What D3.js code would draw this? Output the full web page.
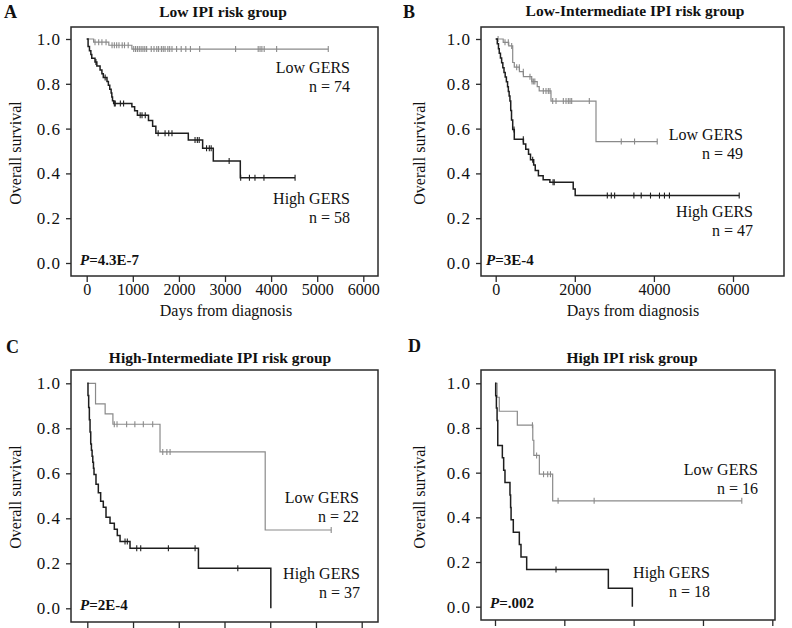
<!DOCTYPE html>
<html>
<head>
<meta charset="utf-8">
<script src="https://cdn.jsdelivr.net/npm/d3@7"></script>
<style>
  html, body { margin: 0; padding: 0; background: #fff; }
  svg { display: block; font-family: "Liberation Serif", "Times New Roman", serif; }
</style>
</head>
<body>
<svg id="chart" width="792" height="628"></svg>
<script>
// ---------------- DATA ----------------
const panelLetters = ["A", "B", "C", "D"];
const panelTitles = ["Low IPI risk group", "Low-Intermediate IPI risk group",
                     "High-Intermediate IPI risk group", "High IPI risk group"];
const pValues = ["=4.3E-7", "=3E-4", "=2E-4", "=.002"];
const lowCounts = [74, 49, 22, 16];
const highCounts = [58, 47, 37, 18];
const seriesNames = ["Low GERS", "High GERS"];
const yTicks = [0, 0.2, 0.4, 0.6, 0.8, 1.0];
const xTicksA = [0, 1000, 2000, 3000, 4000, 5000, 6000];
const xTicksB = [0, 2000, 4000, 6000];
const xTicksC = [0, 1000, 2000, 3000, 4000, 5000, 6000];
const xTicksD = [0, 1000, 2000, 3000, 4000];

// Kaplan-Meier steps: [day, survival after that day]
const lowA_steps = [[0,1],[150,0.986],[480,0.972],[980,0.955]];
const lowA_end = 5240;
const lowA_censor = [180,260,330,420,550,600,650,700,770,820,900,1020,1060,1100,1140,1180,1220,1260,1300,1400,1460,1520,1560,1620,1660,1700,1760,1800,1850,1950,2050,2150,2250,2450,3230,3720,3760,3800,3850,4120,5240];
const highA_steps = [[0,1],[30,0.966],[60,0.948],[90,0.931],[110,0.914],[180,0.897],[220,0.879],[290,0.862],[330,0.845],[360,0.828],[440,0.810],[470,0.793],[500,0.776],[530,0.759],[545,0.741],[560,0.724],[585,0.712],[980,0.697],[1040,0.680],[1100,0.660],[1340,0.636],[1430,0.610],[1500,0.579],[2204,0.549],[2515,0.512],[2746,0.455],[3332,0.381]];
const highA_end = 4520;
const highA_censor = [200,400,600,620,730,800,1160,1200,1270,1550,1700,1780,1850,2350,2400,2440,2600,2660,2700,3090,3340,3530,3650,3845,4520];

const lowB_steps = [[0,1],[190,0.985],[330,0.969],[430,0.895],[470,0.874],[600,0.854],[700,0.832],[910,0.810],[1050,0.787],[1100,0.768],[1398,0.723],[2536,0.542]];
const lowB_end = 4084;
const lowB_censor = [60,235,319,404,531,597,698,867,920,960,990,1204,1272,1330,1373,1441,1525,1710,1778,1836,1879,1921,2367,3175,3511,4084];
const highB_steps = [[0,1],[40,0.979],[70,0.957],[90,0.936],[120,0.915],[150,0.894],[180,0.872],[210,0.851],[240,0.830],[270,0.809],[300,0.787],[320,0.766],[340,0.745],[360,0.723],[380,0.681],[400,0.638],[430,0.596],[470,0.553],[700,0.531],[760,0.508],[830,0.485],[880,0.461],[960,0.437],[1000,0.413],[1080,0.389],[1200,0.372],[1370,0.360],[1960,0.330],[2010,0.301]];
const highB_end = 6157;
const highB_censor = [463,698,935,1450,1480,2822,2923,3007,3494,3679,3914,4141,4267,4393,6157];

const lowC_steps = [[0,1],[180,0.909],[390,0.864],[560,0.818],[1590,0.695],[3890,0.348]];
const lowC_end = 5333;
const lowC_censor = [590,650,860,1040,1225,1430,1650,1740,1810,5333];
const highC_steps = [[0,1],[15,0.946],[30,0.892],[45,0.838],[60,0.784],[75,0.730],[90,0.703],[105,0.676],[120,0.649],[135,0.622],[147,0.595],[190,0.551],[241,0.514],[292,0.476],[350,0.449],[409,0.405],[497,0.378],[591,0.351],[656,0.324],[716,0.297],[934,0.267],[2430,0.178],[4013,0]];
const highC_end = 4013;
const highC_censor = [825,875,1081,1168,1773,2357,3291];

const lowD_steps = [[0,1],[30,0.9375],[62,0.875],[322,0.8125],[545,0.745],[560,0.677],[640,0.593],[832,0.474]];
const lowD_end = 3560;
const lowD_censor = [540,600,700,760,800,910,1430,3560];
const highD_steps = [[0,1],[10,0.944],[20,0.889],[30,0.833],[40,0.722],[106,0.667],[125,0.611],[144,0.556],[216,0.5],[225,0.444],[232,0.389],[264,0.333],[351,0.278],[375,0.222],[457,0.167],[1635,0.083],[1981,0]];
const highD_end = 1981;
const highD_censor = [880];

// ---------------- LAYOUT ----------------
const panels = [
  { frame:[71,27,378,276], xDom:[0,6000], xRange:[86.7,363.3], yRange:[263,39], xTicks:xTicksA, showXLabels:true,
    letter:[4,18], title:[223,17], ylab:[15,153], xlab:[226,316], pv:[80,265],
    lowLab:[350,73], highLab:[350,204],
    low:{steps:lowA_steps,end:lowA_end,censor:lowA_censor}, high:{steps:highA_steps,end:highA_end,censor:highA_censor} },
  { frame:[481,27,784,276], xDom:[0,6000], xRange:[495.7,733], yRange:[263,39], xTicks:xTicksB, showXLabels:true,
    letter:[403,18], title:[635,16], ylab:[419,153], xlab:[633,316], pv:[486,265],
    lowLab:[743,140], highLab:[753,217],
    low:{steps:lowB_steps,end:lowB_end,censor:lowB_censor}, high:{steps:highB_steps,end:highB_end,censor:highB_censor} },
  { frame:[71,370,378,622], xDom:[0,6000], xRange:[87.3,361.7], yRange:[608.3,383.3], xTicks:xTicksC, showXLabels:false,
    letter:[6,353], title:[220,363], ylab:[15,497], xlab:null, pv:[80,610],
    lowLab:[359,503], highLab:[360,579],
    low:{steps:lowC_steps,end:lowC_end,censor:lowC_censor}, high:{steps:highC_steps,end:highC_end,censor:highC_censor} },
  { frame:[481,370,775,620], xDom:[0,4000], xRange:[495,772.3], yRange:[606.7,383.3], xTicks:xTicksD, showXLabels:false,
    letter:[408,352], title:[632,363], ylab:[419,497], xlab:null, pv:[490,608],
    lowLab:[758,475], highLab:[710,578],
    low:{steps:lowD_steps,end:lowD_end,censor:lowD_censor}, high:{steps:highD_steps,end:highD_end,censor:highD_censor} }
];

const svg = d3.select("#chart");
const lowColor = "#8a8a8a", highColor = "#1e1e1e";

panels.forEach((p, i) => {
  const g = svg.append("g");
  const x = d3.scaleLinear().domain(p.xDom).range(p.xRange);
  const y = d3.scaleLinear().domain([0, 1]).range(p.yRange);
  const [fx0, fy0, fx1, fy1] = p.frame;

  // frame
  g.append("rect").attr("x", fx0).attr("y", fy0).attr("width", fx1 - fx0).attr("height", fy1 - fy0)
    .attr("fill", "none").attr("stroke", "#2a2a2a").attr("stroke-width", 1.5);

  // y axis
  const yAxis = d3.axisLeft(y).tickValues(yTicks).tickFormat(d3.format(".1f")).tickSize(5).tickPadding(5);
  const ya = g.append("g").attr("transform", `translate(${fx0},0)`).call(yAxis);
  ya.select(".domain").remove();
  ya.selectAll("line").attr("stroke", "#2a2a2a").attr("stroke-width", 1.3);
  ya.selectAll("text").attr("font-family", "Liberation Serif").attr("font-size", 17)
    .attr("letter-spacing", 1).attr("fill", "#111");

  // x axis
  const xAxis = d3.axisBottom(x).tickValues(p.xTicks).tickSize(6).tickPadding(2)
    .tickFormat(p.showXLabels ? d3.format("d") : () => "");
  const xa = g.append("g").attr("transform", `translate(0,${fy1})`).call(xAxis);
  xa.select(".domain").remove();
  xa.selectAll("line").attr("stroke", "#2a2a2a").attr("stroke-width", 1.3);
  xa.selectAll("text").attr("font-family", "Liberation Serif").attr("font-size", 16).attr("fill", "#111");

  // curves
  const line = d3.line().x(d => x(d[0])).y(d => y(d[1])).curve(d3.curveStepAfter);
  const drawSeries = (s, color, width) => {
    const pts = s.steps.slice();
    pts.push([s.end, s.steps[s.steps.length - 1][1]]);
    g.append("path").attr("d", line(pts)).attr("fill", "none").attr("stroke", color).attr("stroke-width", width);
    const surv = t => { let v = 1; for (const st of s.steps) { if (st[0] <= t) v = st[1]; } return v; };
    g.selectAll(null).data(s.censor).enter().append("line")
      .attr("x1", d => x(d)).attr("x2", d => x(d))
      .attr("y1", d => y(surv(d)) - 3).attr("y2", d => y(surv(d)) + 3)
      .attr("stroke", color).attr("stroke-width", 1.1);
  };
  drawSeries(p.low, lowColor, 1.2);
  drawSeries(p.high, highColor, 1.5);

  // texts
  g.append("text").attr("x", p.letter[0]).attr("y", p.letter[1]).text(panelLetters[i])
    .attr("font-size", 18).attr("font-weight", "bold").attr("fill", "#111");
  g.append("text").attr("x", p.title[0]).attr("y", p.title[1]).attr("text-anchor", "middle").text(panelTitles[i])
    .attr("font-size", 15.5).attr("font-weight", "bold").attr("fill", "#111");
  g.append("text").attr("transform", `translate(${p.ylab[0]},${p.ylab[1]}) rotate(-90)`)
    .attr("text-anchor", "middle").attr("dy", "0.35em").text("Overall survival")
    .attr("font-size", 16).attr("fill", "#111");
  if (p.xlab) {
    g.append("text").attr("x", p.xlab[0]).attr("y", p.xlab[1]).attr("text-anchor", "middle")
      .text("Days from diagnosis").attr("font-size", 16).attr("fill", "#111");
  }
  const pt = g.append("text").attr("x", p.pv[0]).attr("y", p.pv[1]).attr("font-size", 15)
    .attr("font-weight", "bold").attr("fill", "#111");
  pt.append("tspan").attr("font-style", "italic").text("P");
  pt.append("tspan").text(pValues[i]);

  const legend = (pos, name, n) => {
    g.append("text").attr("x", pos[0]).attr("y", pos[1]).attr("text-anchor", "end").text(name)
      .attr("font-size", 16).attr("fill", "#111");
    g.append("text").attr("x", pos[0]).attr("y", pos[1] + 19).attr("text-anchor", "end").text("n = " + n)
      .attr("font-size", 16).attr("fill", "#111");
  };
  legend(p.lowLab, seriesNames[0], lowCounts[i]);
  legend(p.highLab, seriesNames[1], highCounts[i]);
});
</script>
</body>
</html>
